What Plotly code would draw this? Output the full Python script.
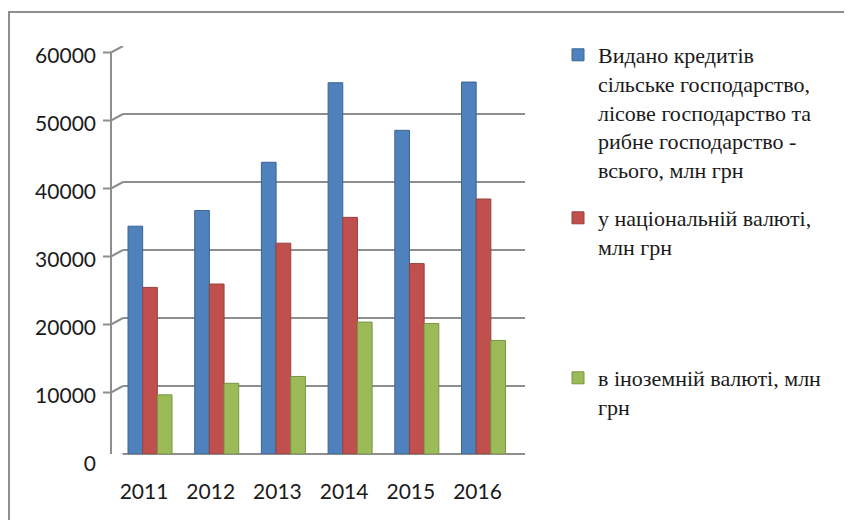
import plotly.graph_objects as go

years = ["2011", "2012", "2013", "2014", "2015", "2016"]
total = [33500, 35800, 42900, 54600, 47600, 54700]
national = [24500, 25000, 31000, 34800, 28000, 37500]
foreign = [8700, 10400, 11400, 19400, 19200, 16700]

names = [
    "Видано кредитів<br>сільське господарство,<br>лісове господарство та<br>рибне господарство -<br>всього, млн грн",
    "у національній валюті,<br>млн грн",
    "в іноземній валюті, млн<br>грн",
]
colors = ["#4F81BD", "#C0504D", "#9BBB59"]
edges = ["#3A6595", "#99403D", "#7A9446"]
y_ticks = [0, 10000, 20000, 30000, 40000, 50000, 60000]

OFF = 8
W, H = 852, 520
L, T = 123 - OFF, 46 - OFF
R = W - (525 - OFF)
B = H - (454 - OFF)
PW = W - L - R
PH = H - T - B


def px_x(px):
    return (px - OFF - L) / PW


def px_y(py):
    return (H - B - (py - OFF)) / PH


fig = go.Figure()
legends = ["legend", "legend2", "legend3"]
for vals, nm, c, e, lg in zip([total, national, foreign], names, colors, edges, legends):
    fig.add_trace(go.Bar(
        x=list(range(len(years))), y=vals, name=nm, legend=lg,
        marker=dict(color=c, line=dict(color=e, width=1)),
    ))

serif = "Liberation Serif"
leg_common = dict(bgcolor="rgba(0,0,0,0)", borderwidth=0,
                  font=dict(family=serif, size=22, color="#1a1a1a"),
                  valign="top", xanchor="left", yanchor="top", itemclick=False)

axis_gray = "#8E8E8E"
off_units = 6.5 * 60000 / PH
shapes = []
shapes.append(dict(type="rect", xref="paper", yref="paper",
                   x0=px_x(9), x1=px_x(900), y0=px_y(12), y1=px_y(560),
                   line=dict(color=axis_gray, width=2), fillcolor="rgba(0,0,0,0)", layer="below"))
shapes.append(dict(type="line", xref="paper", yref="y",
                   x0=px_x(111), x1=px_x(111), y0=-off_units, y1=60000 - off_units,
                   line=dict(color=axis_gray, width=2)))
for t in y_ticks:
    shapes.append(dict(type="line", xref="paper", yref="y",
                       x0=px_x(111), x1=px_x(123), y0=t - off_units, y1=t,
                       line=dict(color=axis_gray, width=2)))
    shapes.append(dict(type="line", xref="paper", yref="y",
                       x0=px_x(103), x1=px_x(111), y0=t - off_units, y1=t - off_units,
                       line=dict(color=axis_gray, width=2)))
shapes.append(dict(type="line", xref="paper", yref="y",
                   x0=px_x(111), x1=px_x(510), y0=-off_units, y1=-off_units,
                   line=dict(color=axis_gray, width=2)))
shapes.append(dict(type="line", xref="paper", yref="y",
                   x0=px_x(510), x1=px_x(525), y0=-off_units, y1=0,
                   line=dict(color=axis_gray, width=2)))
for i in range(len(years) + 1):
    xb = i - 0.5 - 0.175
    shapes.append(dict(type="line", xref="x", yref="y",
                       x0=xb, x1=xb, y0=-off_units, y1=-off_units - 1400,
                       line=dict(color=axis_gray, width=2)))

fig.update_layout(
    width=W, height=H,
    font=dict(family=serif, size=22, color="#1a1a1a"),
    margin=dict(l=L, r=R, t=T, b=B, autoexpand=False),
    paper_bgcolor="white", plot_bgcolor="white",
    barmode="group", bargap=0.34, bargroupgap=0,
    shapes=shapes,
    legend=dict(x=px_x(558), y=px_y(34), **leg_common),
    legend2=dict(x=px_x(558), y=px_y(197), **leg_common),
    legend3=dict(x=px_x(558), y=px_y(357), **leg_common),
    xaxis=dict(
        range=[-0.405, -0.405 + PW / 66.7],
        tickmode="array", tickvals=list(range(len(years))), ticktext=years,
        showgrid=False, zeroline=False, showline=False, ticks="",
        tickfont=dict(family="Lato", size=21, color="#1a1a1a"),
        ticklabelstandoff=23, ticklabelshift=-6,
    ),
    yaxis=dict(
        range=[0, 60000], tickvals=y_ticks, tickformat="d",
        showgrid=True, gridcolor=axis_gray, gridwidth=2,
        zeroline=True, zerolinecolor=axis_gray, zerolinewidth=2,
        showline=False, ticks="",
        tickfont=dict(family="Lato", size=21, color="#1a1a1a"),
        ticklabelstandoff=26, ticklabelshift=10,
    ),
    showlegend=True,
)

fig.write_html("out.html")
